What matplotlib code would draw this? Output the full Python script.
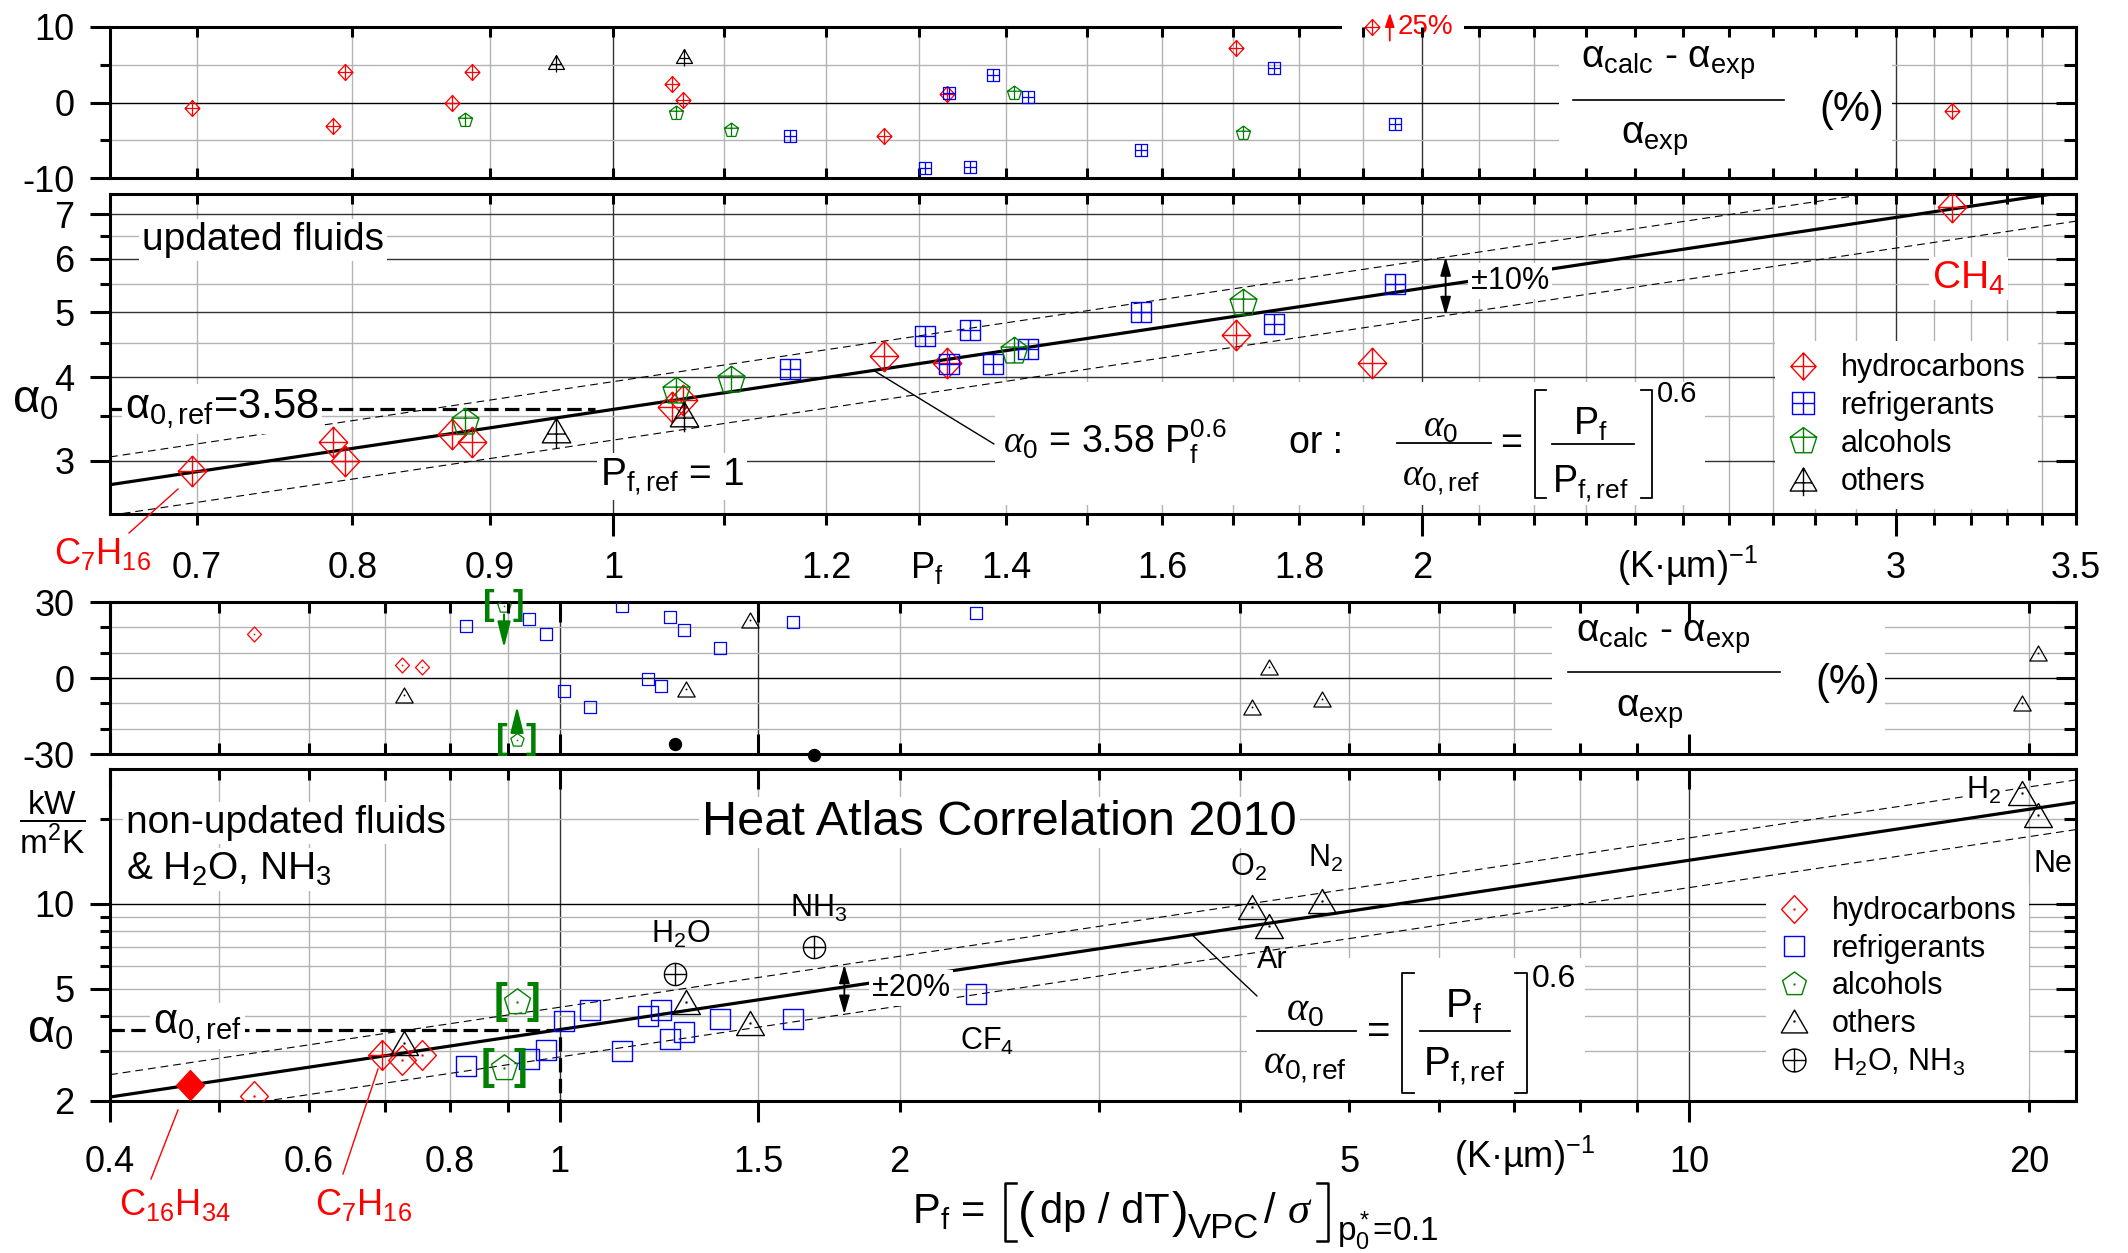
import numpy as np
import matplotlib
matplotlib.use('Agg')
import matplotlib.pyplot as plt
from matplotlib.path import Path
from matplotlib.lines import Line2D
from matplotlib.patches import Rectangle

plt.rcParams['font.family'] = ['Liberation Sans', 'DejaVu Sans']
plt.rcParams['mathtext.fontset'] = 'custom'
plt.rcParams['mathtext.rm'] = 'Liberation Sans'
plt.rcParams['mathtext.it'] = 'Liberation Serif:italic'
plt.rcParams['mathtext.bf'] = 'Liberation Sans:bold'
plt.rcParams['mathtext.default'] = 'regular'

# correlation: alpha_0 = alpha_0,ref * (P_f / P_f,ref)^n
A0_REF = 3.58
PF_REF = 1.0
N_EXP = 0.6
TOL_UPD = 0.10
TOL_OLD = 0.20

# updated fluids -- P_f in (K um)^-1, alpha_0 in kW/(m2 K), deviation in %
upd_hc_pf = [0.697, 0.787, 0.795, 0.871, 0.886, 1.052, 1.062, 1.261, 1.331, 1.705, 1.916, 3.147]
upd_hc_alpha = [2.90, 3.20, 3.00, 3.29, 3.20, 3.61, 3.70, 4.30, 4.20, 4.62, 4.20, 7.18]
upd_hc_dev = [-0.7, -3.1, 4.0, -0.1, 4.0, 2.5, 0.3, -4.5, 1.1, 7.2, 25.0, -1.1]

upd_rf_pf = [1.164, 1.306, 1.333, 1.357, 1.385, 1.427, 1.571, 1.761, 1.954]
upd_rf_alpha = [4.11, 4.61, 4.19, 4.70, 4.19, 4.41, 5.00, 4.80, 5.50]
upd_rf_dev = [-4.4, -8.7, 1.2, -8.5, 3.6, 0.7, -6.3, 4.6, -2.8]

upd_al_pf = [0.881, 1.055, 1.106, 1.410, 1.715]
upd_al_alpha = [3.43, 3.82, 3.96, 4.38, 5.16]
upd_al_dev = [-2.3, -1.4, -3.7, 1.2, -4.0]

upd_ot_pf = [0.952, 1.063]
upd_ot_alpha = [3.33, 3.53]
upd_ot_dev = [5.3, 6.1]

# non-updated fluids & H2O, NH3
old_hc_pf = [0.537, 0.725, 0.755]
old_hc_alpha = [2.09, 2.80, 2.90]
old_hc_dev = [17.4, 5.2, 4.3]

old_rf_pf = [0.827, 0.939, 0.972, 1.010, 1.063, 1.135, 1.198, 1.231, 1.252, 1.289, 1.388, 1.610, 2.337]
old_rf_alpha = [2.65, 2.81, 3.02, 3.83, 4.21, 3.00, 4.00, 4.21, 3.31, 3.51, 3.90, 3.90, 4.77]
old_rf_dev = [20.7, 23.2, 17.3, -5.2, -11.6, 28.6, -0.4, -3.1, 24.0, 19.1, 11.8, 22.2, 25.6]

old_al_pf = [0.893, 0.917]
old_al_alpha = [2.62, 4.49]
old_al_dev = [28.6, -24.4]

old_ot_pf = [0.729, 1.294, 1.473, 4.10, 4.243, 4.73, 19.7, 20.35]   # ..., O2, Ar, N2, H2, Ne
old_ot_alpha = [3.21, 4.49, 3.77, 9.72, 8.36, 10.24, 24.7, 20.56]
old_ot_dev = [-6.7, -4.3, 22.7, -11.3, 4.5, -8.2, -9.9, 9.9]

wat_pf = [1.266, 1.680]          # H2O, NH3
wat_alpha = [5.64, 7.01]
wat_dev = [-26.1, -30.3]

c16_pf = [0.471]                 # C16H34
c16_alpha = [2.28]

# axis ticks
xt12_major = [1.0, 2.0, 3.0]
xt12_minor = [v for v in np.round(np.arange(0.7, 3.51, 0.1), 1) if v not in xt12_major]
xt12_labels = {0.7: '0.7', 0.8: '0.8', 0.9: '0.9', 1.0: '1', 1.2: '1.2', 1.4: '1.4',
               1.6: '1.6', 1.8: '1.8', 2.0: '2', 3.0: '3', 3.5: '3.5'}
xt34_major = [0.4, 1.0, 1.5, 10.0]
xt34_minor = [0.5, 0.6, 0.7, 0.8, 0.9, 2.0, 3.0, 4.0, 5.0, 6.0, 7.0, 8.0, 9.0, 20.0]
xt34_labels = {0.4: '0.4', 0.6: '0.6', 0.8: '0.8', 1.0: '1', 1.5: '1.5', 2.0: '2',
               5.0: '5', 10.0: '10', 20.0: '20'}

RED, BLUE, GREEN = '#ff0000', '#0000ff', '#008000'
GRID_L, GRID_D = '#b4b4b4', '#333333'


def fit(p):
    return A0_REF * (np.asarray(p, float) / PF_REF) ** N_EXP


# ---- marker shapes (outline + cross / centre dot) ----
def shape(outline, segs=(), dot=False):
    verts = list(outline) + [outline[0]]
    codes = [Path.MOVETO] + [Path.LINETO] * (len(outline) - 1) + [Path.CLOSEPOLY]
    for a, b in segs:
        verts += [a, b]
        codes += [Path.MOVETO, Path.LINETO]
    if dot:
        d = 0.03
        verts += [(-d, -d), (d, -d), (d, d), (-d, d), (-d, -d)]
        codes += [Path.MOVETO, Path.LINETO, Path.LINETO, Path.LINETO, Path.CLOSEPOLY]
    return Path(verts, codes)


DIAMOND = [(0, 1), (0.93, 0), (0, -1), (-0.93, 0)]
SQUARE = [(-1, -1), (1, -1), (1, 1), (-1, 1)]
PENTA = [(np.cos(np.radians(90 + 72 * k)), np.sin(np.radians(90 + 72 * k))) for k in range(5)]
TRI = [(0, 0.866), (-1, -0.866), (1, -0.866)]
CIRC = [(np.cos(t), np.sin(t)) for t in np.linspace(0, 2 * np.pi, 48, endpoint=False)]

DIA_X = shape(DIAMOND, [((0, 1), (0, -1)), ((-0.93, 0), (0.93, 0))])
SQ_X = shape(SQUARE, [((0, -1), (0, 1)), ((-1, 0), (1, 0))])
PENT_X = shape(PENTA, [((0, 1), (0, -0.809)), ((-0.951, 0.309), (0.951, 0.309))])
TRI_X = shape(TRI, [((0, 0.866), (0, -1.25)), ((-0.64, -0.25), (0.64, -0.25))])
CIRC_X = shape(CIRC, [((0, 1), (0, -1)), ((-1, 0), (1, 0))])
DIA_O = shape(DIAMOND, dot=True)
SQ_O = shape(SQUARE, dot=True)
PENT_O = shape(PENTA, dot=True)
TRI_O = shape(TRI, dot=True)
DIA_F = shape(DIAMOND)

W, H = 2128, 1253
fig = plt.figure(figsize=(W / 100, H / 100), dpi=100)


def rect(top, bottom, left=110, right=2076):
    return [left / W, 1 - bottom / H, (right - left) / W, (bottom - top) / H]


def txt(x, y, s, size, ha='left', va='baseline', **kw):
    return fig.text(x / W, 1 - y / H, s, fontsize=size, ha=ha, va=va, **kw)


def seg(x0, y0, x1, y1, color='k', lw=1.0):
    fig.add_artist(Line2D([x0 / W, x1 / W], [1 - y0 / H, 1 - y1 / H], color=color, lw=lw))


def bracket(x_edge, x_tip, y0, y1, lw=1.3):
    fig.add_artist(Line2D([x_tip / W, x_edge / W, x_edge / W, x_tip / W],
                          [1 - y0 / H, 1 - y0 / H, 1 - y1 / H, 1 - y1 / H], color='k', lw=lw))


def frac(cx, x0, x1, y_bar, num, y_num, den, y_den, size):
    txt(cx, y_num, num, size, ha='center')
    seg(x0, y_bar, x1, y_bar, lw=1.3)
    txt(cx, y_den, den, size, ha='center')


def white_box(ax, x0, y0, x1, y1, z=1.2, clip=True):
    p = Rectangle((x0 / W, 1 - y1 / H), (x1 - x0) / W, (y1 - y0) / H, transform=fig.transFigure,
                  facecolor='white', edgecolor='none', zorder=z, clip_on=clip)
    ax.add_patch(p)


def pts(ax, x, y, marker, ms, color, filled=False, mew=1.0, **kw):
    ax.plot(x, y, ls='none', marker=marker, ms=ms, mec=color, mfc=color if filled else 'none',
            mew=mew, zorder=4, **kw)


def setup(ax, xlim, ylim, yscale, xmaj, xmin, xlab, ymaj, ymin, ylab, bottom_out,
          xlen_in, ylen_in, xlen_out=(16, 8), pads=(10.8, 18.7)):
    ax.set_xscale('log')
    ax.set_yscale(yscale)
    ax.set_xlim(xlim)
    ax.set_ylim(ylim)
    for s in ax.spines.values():
        s.set_linewidth(2.2)
    ax.set_xticks(xmaj, labels=[xlab.get(float(v), '') if xlab else '' for v in xmaj])
    ax.set_xticks(xmin, labels=[xlab.get(float(v), '') if xlab else '' for v in xmin], minor=True)
    ax.set_yticks(ymaj, labels=ylab)
    ax.set_yticks(ymin, labels=[''] * len(ymin), minor=True)
    ax.tick_params(axis='y', which='both', direction='out', width=2.2, labelsize=26, pad=11)
    ax.tick_params(axis='y', which='major', length=14.4)
    ax.tick_params(axis='y', which='minor', length=7.2)
    if bottom_out:
        ax.tick_params(axis='x', which='both', direction='out', width=2.2, labelsize=26)
        ax.tick_params(axis='x', which='major', length=xlen_out[0], pad=pads[0])
        ax.tick_params(axis='x', which='minor', length=xlen_out[1], pad=pads[1])
    else:
        ax.tick_params(axis='x', which='both', direction='in', width=2.2, labelbottom=False)
        ax.tick_params(axis='x', which='major', length=xlen_in[0])
        ax.tick_params(axis='x', which='minor', length=xlen_in[1])
    # inward ticks on top and right
    ov = fig.add_axes(ax.get_position(), frameon=False, zorder=ax.get_zorder() + 0.5)
    ov.set_xscale('log')
    ov.set_yscale(yscale)
    ov.set_xlim(xlim)
    ov.set_ylim(ylim)
    ov.set_xticks(xmaj, labels=[''] * len(xmaj))
    ov.set_xticks(xmin, labels=[''] * len(xmin), minor=True)
    ov.set_yticks(ymaj, labels=[''] * len(ymaj))
    ov.set_yticks(ymin, labels=[''] * len(ymin), minor=True)
    ov.tick_params(which='both', direction='in', width=2.2, top=True, right=True,
                   bottom=False, left=False, labelbottom=False, labelleft=False)
    ov.tick_params(axis='x', which='major', length=xlen_in[0])
    ov.tick_params(axis='x', which='minor', length=xlen_in[1])
    ov.tick_params(axis='y', which='major', length=ylen_in[0])
    ov.tick_params(axis='y', which='minor', length=ylen_in[1])
    return ov


def grid(ax, vlines, hlines):
    for v, c in vlines:
        ax.axvline(v, color=c, lw=1.0, zorder=0.8)
    for h, c in hlines:
        ax.axhline(h, color=c, lw=1.0, zorder=0.8)


ax1 = fig.add_axes(rect(27, 178))
ax2 = fig.add_axes(rect(194, 514))
ax3 = fig.add_axes(rect(602, 754))
ax4 = fig.add_axes(rect(769, 1101))

XL12, XL34 = (0.65, 3.5), (0.4, 22.0)
setup(ax1, XL12, (-10, 10), 'linear', xt12_major, xt12_minor, None,
      [-10, 0, 10], [-5, 5], ['-10', '0', '10'], False, (7.2, 7.2), (14.4, 8.6))
setup(ax2, XL12, (2.5, 7.5), 'log', xt12_major, xt12_minor, xt12_labels,
      [3, 4, 5, 6, 7], [3.5, 4.5, 5.5, 6.5], ['3', '4', '5', '6', '7'], True, (7.2, 7.2), (14.4, 8.6),
      xlen_out=(16, 8), pads=(10.8, 18.7))
setup(ax3, XL34, (-30, 30), 'linear', xt34_major, xt34_minor, None,
      [-30, 0, 30], [-20, -10, 10, 20], ['-30', '0', '30'], False, (14.4, 8), (14.4, 8.6))
setup(ax4, XL34, (2, 30), 'log', xt34_major, xt34_minor, xt34_labels,
      [2, 5, 10], [3, 4, 6, 7, 8, 9, 20], ['2', '5', '10'], True, (14.4, 8), (14.4, 8.6),
      xlen_out=(15, 8), pads=(16.6, 23.8))

# grid lines
v12 = [(v, GRID_D if v in xt12_major else GRID_L) for v in np.round(np.arange(0.7, 3.45, 0.1), 1)]
v34 = [(v, GRID_D if v in (1.0, 10.0) else GRID_L) for v in xt34_minor + [1.0, 1.5, 10.0]]
grid(ax1, v12, [(-5, GRID_L), (0, 'k'), (5, GRID_L)])
grid(ax2, v12, [(h, GRID_D) for h in (3, 4, 5, 6, 7)] + [(h, GRID_L) for h in (3.5, 4.5, 5.5, 6.5)])
grid(ax3, [(v, GRID_D if v in (1.0, 1.5, 10.0) else GRID_L) for v, _ in v34],
     [(-20, GRID_L), (-10, GRID_L), (0, 'k'), (10, GRID_L), (20, GRID_L)])
grid(ax4, v34, [(h, GRID_L) for h in (3, 4, 5, 6, 7, 8, 9, 20)] + [(10, 'k')])

# ---- panel 1: deviation, updated fluids ----
hc_pf, hc_dev = np.array(upd_hc_pf), np.array(upd_hc_dev)
inside = np.abs(hc_dev) <= 10
pts(ax1, hc_pf[inside], hc_dev[inside], DIA_X, 11.5, RED, mew=0.9)
pts(ax1, upd_rf_pf, upd_rf_dev, SQ_X, 8.8, BLUE, mew=0.9)
pts(ax1, upd_al_pf, upd_al_dev, PENT_X, 10.6, GREEN, mew=0.9)
pts(ax1, upd_ot_pf, upd_ot_dev, TRI_X, 14.4, 'k', mew=0.9)
white_box(ax1, 1559, 29, 1892, 176)
white_box(ax1, 1342, 17, 1464, 37, z=2.6, clip=False)
ytop = ax1.get_ylim()[1]
for p, d in zip(hc_pf[~inside], hc_dev[~inside]):
    ax1.plot([p], [ytop], ls='none', marker=DIA_X, ms=11.5, mec=RED, mfc='none', mew=0.9,
             clip_on=False, zorder=6)
    ax1.annotate('', xy=(p * 1.015, ytop + 1.9), xytext=(p * 1.015, ytop - 1.8),
                 arrowprops=dict(arrowstyle='-|>,head_length=0.6,head_width=0.2', color=RED, lw=1.3,
                                 mutation_scale=14, shrinkA=0, shrinkB=0),
                 annotation_clip=False, zorder=6)
    ax1.text(p * 1.022, ytop, f'{d:.0f}%', color=RED, fontsize=20, ha='left', va='center', zorder=6)

# ---- panel 2: alpha_0, updated fluids ----
p2 = np.geomspace(XL12[0], XL12[1], 300)
ax2.plot(p2, fit(p2), color='k', lw=2.3, zorder=2)
for f in (1 + TOL_UPD, 1 - TOL_UPD):
    ax2.plot(p2, f * fit(p2), color='k', lw=0.8, dashes=(7, 4.5), zorder=2)
ax2.plot([XL12[0], PF_REF * 0.985], [A0_REF, A0_REF], color='k', lw=2.3, dashes=(4.5, 2), zorder=2)
pts(ax2, upd_hc_pf, upd_hc_alpha, DIA_X, 22, RED)
pts(ax2, upd_rf_pf, upd_rf_alpha, SQ_X, 15, BLUE)
pts(ax2, upd_al_pf, upd_al_alpha, PENT_X, 20.4, GREEN)
pts(ax2, upd_ot_pf, upd_ot_alpha, TRI_X, 25.6, 'k')
xa = 2.04
ax2.annotate('', xy=(xa, (1 + TOL_UPD) * fit(xa)), xytext=(xa, (1 - TOL_UPD) * fit(xa)),
             arrowprops=dict(arrowstyle='<|-|>,head_length=0.7,head_width=0.2', color='k', lw=1.3,
                             mutation_scale=16, shrinkA=0, shrinkB=0), zorder=5)
ax2.annotate('', xy=(1.25, fit(1.25)), xytext=(994, H - 444), textcoords='figure pixels',
             arrowprops=dict(arrowstyle='-', color='k', lw=1.0, shrinkA=0, shrinkB=0))
white_box(ax2, 995, 382, 1705, 505)

h_upd = [Line2D([], [], ls='none', marker=m, ms=s, mec=c, mfc='none', mew=1.0)
         for m, s, c in [(DIA_X, 19.5, RED), (SQ_X, 15.8, BLUE), (PENT_X, 20, GREEN), (TRI_X, 24, 'k')]]
ax2.legend(h_upd, ['hydrocarbons', 'refrigerants', 'alcohols', 'others'], loc='upper left',
           bbox_to_anchor=(1775 / W, 1 - 341 / H), bbox_transform=fig.transFigure, fontsize=22,
           frameon=True, fancybox=False, framealpha=1, facecolor='white', edgecolor='none',
           borderpad=0.4, handlelength=1.0, handletextpad=0.75, labelspacing=0.26, borderaxespad=0)

# ---- panel 3: deviation, non-updated fluids ----
pts(ax3, old_hc_pf, old_hc_dev, DIA_O, 10.8, RED, mew=0.9)
pts(ax3, old_rf_pf, old_rf_dev, SQ_O, 8.8, BLUE, mew=0.9)
pts(ax3, old_al_pf, old_al_dev, PENT_O, 10, GREEN, mew=0.9)
pts(ax3, old_ot_pf, old_ot_dev, TRI_O, 12.5, 'k', mew=0.9)
ax3.plot(wat_pf, wat_dev, ls='none', marker='o', ms=8.6, color='k', clip_on=False, zorder=4)
white_box(ax3, 1552, 604, 1885, 752)
for p, d in zip(old_al_pf, old_al_dev):
    for s, dx in (('[', -11), (']', 10.5)):
        ax3.annotate(s, (p, d), xytext=(dx, 0), textcoords='offset points', ha='center', va='center',
                     color=GREEN, fontsize=25, fontweight='bold', zorder=5, annotation_clip=False)
    tail, tip = (d - 3.5, d - 16.7) if d > 0 else (d + 5.2, d + 13.2)
    ax3.annotate('', xy=(p, tip), xytext=(p, tail),
                 arrowprops=dict(arrowstyle='-|>,head_length=0.8,head_width=0.2', color=GREEN, lw=1.5,
                                 mutation_scale=20, shrinkA=0, shrinkB=0), zorder=5)

# ---- panel 4: alpha_0, non-updated fluids ----
p4 = np.geomspace(XL34[0], XL34[1], 300)
ax4.plot(p4, fit(p4), color='k', lw=2.3, zorder=2)
for f in (1 + TOL_OLD, 1 - TOL_OLD):
    ax4.plot(p4, f * fit(p4), color='k', lw=0.8, dashes=(7, 4.5), zorder=2)
ax4.plot([XL34[0], PF_REF, PF_REF], [A0_REF, A0_REF, 2.0], color='k', lw=2.3, dashes=(4.5, 2), zorder=2)
pts(ax4, old_hc_pf, old_hc_alpha, DIA_O, 21.5, RED)
pts(ax4, upd_hc_pf[:1], upd_hc_alpha[:1], DIA_X, 21.5, RED)
pts(ax4, c16_pf, c16_alpha, DIA_F, 21.5, RED, filled=True)
pts(ax4, old_rf_pf, old_rf_alpha, SQ_O, 14.5, BLUE)
pts(ax4, old_al_pf, old_al_alpha, PENT_O, 19.7, GREEN)
pts(ax4, old_ot_pf, old_ot_alpha, TRI_O, 20, 'k')
pts(ax4, wat_pf, wat_alpha, CIRC_X, 16, 'k')
for p, a in zip(old_al_pf, old_al_alpha):
    for s, dx in (('[', -12), (']', 12)):
        ax4.annotate(s, (p, a), xytext=(dx, 0), textcoords='offset points', ha='center', va='center',
                     color=GREEN, fontsize=30, fontweight='bold', zorder=5)
xb = 1.787
ax4.annotate('', xy=(xb, (1 + TOL_OLD) * fit(xb)), xytext=(xb, (1 - TOL_OLD) * fit(xb)),
             arrowprops=dict(arrowstyle='<|-|>,head_length=0.7,head_width=0.2', color='k', lw=1.3,
                             mutation_scale=16, shrinkA=0, shrinkB=0), zorder=5)
ax4.annotate('', xy=(3.63, fit(3.63)), xytext=(1257, H - 996), textcoords='figure pixels',
             arrowprops=dict(arrowstyle='-', color='k', lw=1.0, shrinkA=0, shrinkB=0))
white_box(ax4, 1247, 958, 1585, 1099)

h_old = [Line2D([], [], ls='none', marker=m, ms=s, mec=c, mfc='none', mew=1.0)
         for m, s, c in [(DIA_O, 20, RED), (SQ_O, 13.7, BLUE), (PENT_O, 18, GREEN), (TRI_O, 19, 'k'),
                         (CIRC_X, 16.5, 'k')]]
ax4.legend(h_old, ['hydrocarbons', 'refrigerants', 'alcohols', 'others', 'H$_2$O, NH$_3$'],
           loc='upper left', bbox_to_anchor=(1766 / W, 1 - 884 / H), bbox_transform=fig.transFigure,
           fontsize=22, frameon=True, fancybox=False, framealpha=1, facecolor='white', edgecolor='none',
           borderpad=0.4, handlelength=1.0, handletextpad=0.75, labelspacing=0.25, borderaxespad=0)

# ---- texts ----
WB = dict(facecolor='white', edgecolor='none', pad=2)
fmt_a = f'{A0_REF:.2f}'
fmt_n = f'{N_EXP:g}'
AL = r'$\mathit{\alpha}_0$'
ALR = r'$\mathit{\alpha}_{0,ref}$'

# panel 1
txt(1668, 68, 'α$_{calc}$ - α$_{exp}$', 28, ha='center')
seg(1573, 100, 1784, 100, lw=1.2)
txt(1655, 144, 'α$_{exp}$', 28, ha='center')
txt(1852, 110, '(%)', 30, ha='center', va='center')

# panel 2
txt(142, 250, 'updated fluids', 28, bbox=WB)
txt(125, 418, 'α$_{0,ref}$=' + fmt_a, 30, bbox=WB)
txt(600, 485, 'P$_{f,ref}$ = ' + f'{PF_REF:g}', 28, bbox=WB)
txt(12, 413, 'α$_0$', 34)
txt(1510, 281, '±' + f'{TOL_UPD * 100:.0f}%', 22, ha='center', va='center', bbox=WB)
txt(1932, 289, 'CH$_4$', 28, color=RED, bbox=WB)
txt(1003, 453, AL + ' = ' + fmt_a + ' P$_f^{' + fmt_n + '}$', 27)
txt(1289, 453, 'or :', 27)
frac(1441, 1397, 1491, 443, AL, 437, ALR, 485, 27)
txt(1511, 444, '=', 27, ha='center', va='center')
bracket(1535, 1546, 390, 498)
bracket(1652, 1641, 390, 498)
frac(1590, 1552, 1634, 444, 'P$_f$', 435, 'P$_{f,ref}$', 492, 27)
txt(1657, 402, fmt_n, 21)
txt(54, 564, 'C$_7$H$_{16}$', 26, color=RED)
seg(178, 489, 129, 533, color=RED)
txt(910, 578, 'P$_f$', 26)
txt(1617, 578, '(K·µm)$^{-1}$', 26)

# panel 3
txt(1663, 642, 'α$_{calc}$ - α$_{exp}$', 28, ha='center')
seg(1568, 672, 1780, 672, lw=1.2)
txt(1650, 717, 'α$_{exp}$', 28, ha='center')
txt(1848, 683, '(%)', 30, ha='center', va='center')

# panel 4
txt(52, 822, r'$\dfrac{kW}{m^2K}$', 24, ha='center', va='center')
txt(27, 1043, 'α$_0$', 34)
txt(126, 833, 'non-updated fluids', 28, bbox=WB)
txt(126, 880, '& H$_2$O, NH$_3$', 28, bbox=WB)
txt(702, 835, 'Heat Atlas Correlation 2010', 35, bbox=WB)
txt(153, 1033, 'α$_{0,ref}$', 30, bbox=WB)
txt(911, 988, '±' + f'{TOL_OLD * 100:.0f}%', 22, ha='center', va='center', bbox=WB)
txt(651, 943, 'H$_2$O', 22)
txt(790, 917, 'NH$_3$', 22)
txt(960, 1050, 'CF$_4$', 22)
txt(1230, 876, 'O$_2$', 22)
txt(1308, 867, 'N$_2$', 22)
txt(1257, 968, 'Ar', 22)
txt(1966, 799, 'H$_2$', 22, bbox=WB)
txt(2034, 872, 'Ne', 22)
frac(1305, 1257, 1356, 1031, AL, 1020, ALR, 1074, 29)
txt(1379, 1032, '=', 29, ha='center', va='center')
bracket(1402, 1414, 973, 1093)
bracket(1527, 1515, 973, 1093)
frac(1464, 1420, 1510, 1031, 'P$_f$', 1017, 'P$_{f,ref}$', 1076, 29)
txt(1532, 987, fmt_n, 23)
txt(119, 1215, 'C$_{16}$H$_{34}$', 26, color=RED)
seg(178, 1110, 151, 1179, color=RED)
txt(315, 1215, 'C$_7$H$_{16}$', 26, color=RED)
seg(378, 1069, 343, 1174, color=RED)
txt(1454, 1168, '(K·µm)$^{-1}$', 26)

# x label of the lower panels
txt(912, 1223, 'P$_f$ =', 30)
bracket(1005, 1016, 1183, 1241, lw=1.8)
txt(1018, 1227, '(', 36)
txt(1040, 1223, 'dp / dT', 30)
txt(1172, 1227, ')', 36)
txt(1188, 1238, 'VPC', 25)
txt(1264, 1223, '/', 30)
txt(1287, 1223, r'$\mathit{\sigma}$', 32)
bracket(1328, 1317, 1183, 1241, lw=1.8)
txt(1337, 1241, 'p$^*_0$=0.1', 24)

fig.savefig('out.png', dpi=100)
